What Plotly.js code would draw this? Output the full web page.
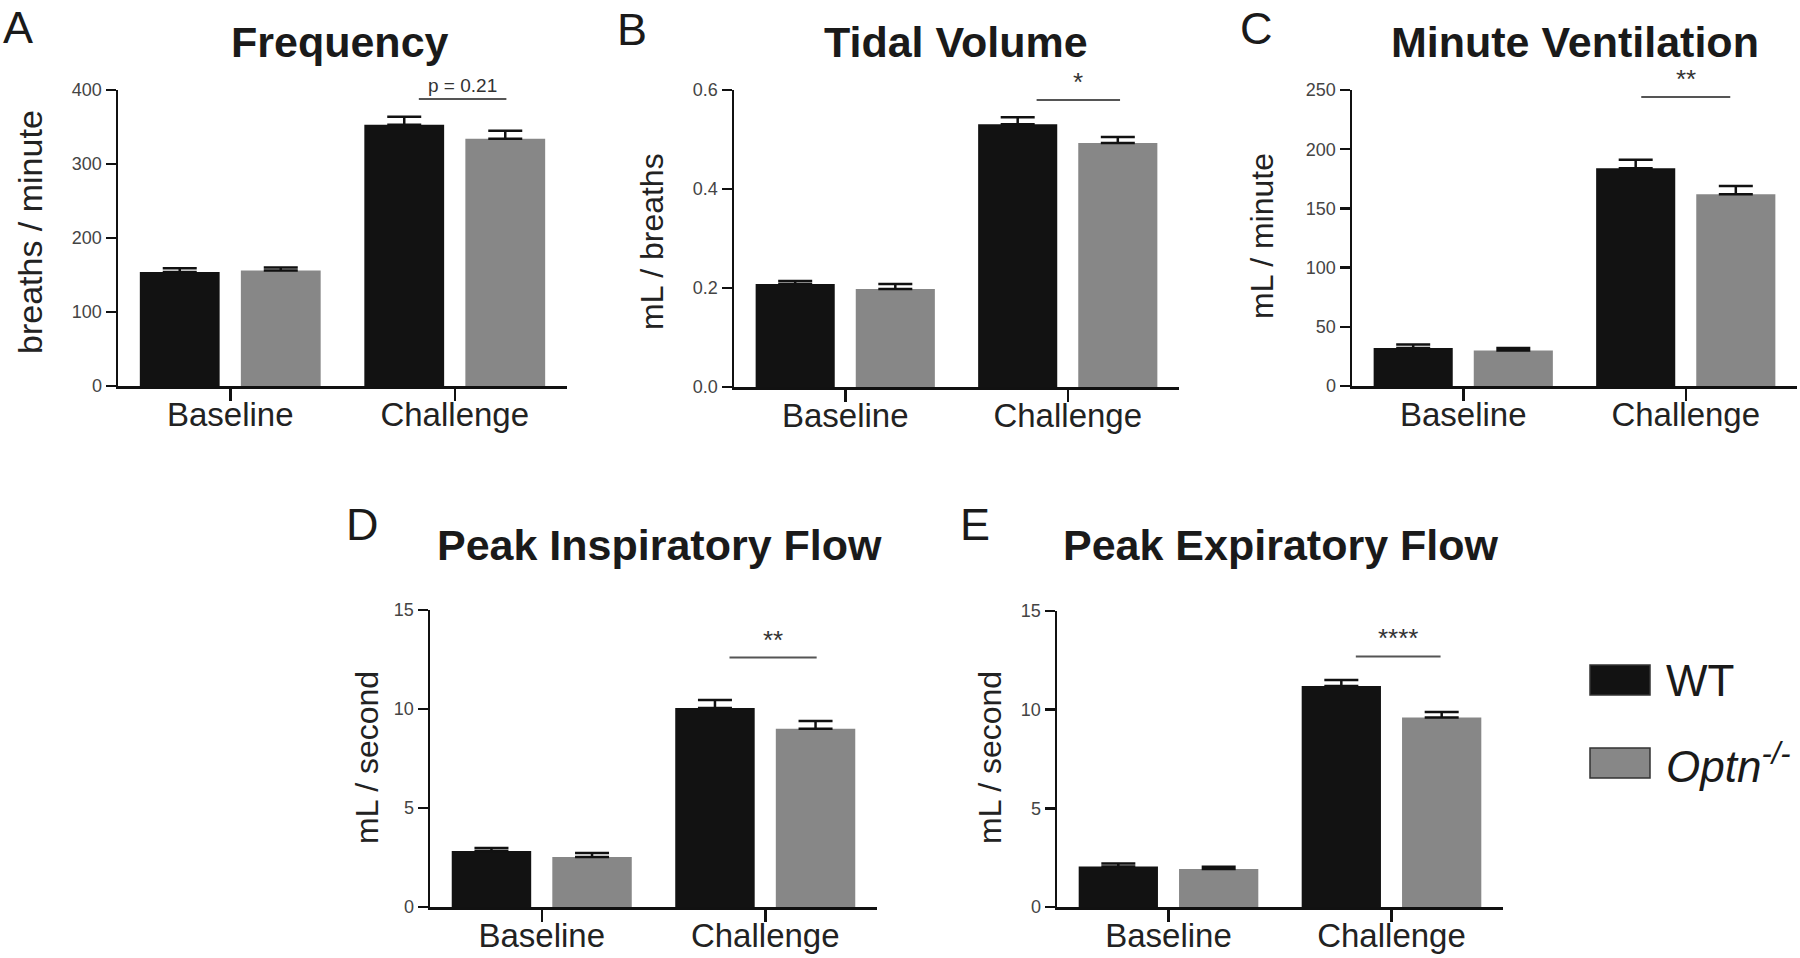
<!DOCTYPE html>
<html>
<head>
<meta charset="utf-8">
<script src="https://cdn.plot.ly/plotly-3.0.1.min.js"></script>
<style>html,body{margin:0;padding:0;background:#fff;}#chart{width:1800px;height:958px;}</style>
</head>
<body>
<div id="chart"></div>
<script>
// ---- data ----
const categories = ['Baseline', 'Challenge'];
const seriesNames = ['WT', 'Optn-/-'];

const freqWT = [154, 353];
const freqWTErr = [5, 11];
const freqKO = [156, 334];
const freqKOErr = [4, 11];

const tidalWT = [0.208, 0.531];
const tidalWTErr = [0.006, 0.014];
const tidalKO = [0.198, 0.493];
const tidalKOErr = [0.010, 0.012];

const minVentWT = [32, 184];
const minVentWTErr = [3, 7];
const minVentKO = [30, 162];
const minVentKOErr = [2, 7];

const pifWT = [2.83, 10.05];
const pifWTErr = [0.15, 0.4];
const pifKO = [2.53, 9.0];
const pifKOErr = [0.2, 0.4];

const pefWT = [2.05, 11.2];
const pefWTErr = [0.15, 0.3];
const pefKO = [1.92, 9.6];
const pefKOErr = [0.12, 0.28];

const panelTitles = ['Frequency', 'Tidal Volume', 'Minute Ventilation', 'Peak Inspiratory Flow', 'Peak Expiratory Flow'];
const panelLetters = ['A', 'B', 'C', 'D', 'E'];
const yTitles = ['breaths / minute', 'mL / breaths', 'mL / minute', 'mL / second', 'mL / second'];
const yMax = [400, 0.6, 250, 15, 15];
const yStep = [100, 0.2, 50, 5, 5];
const sigLabels = ['p = 0.21', '*', '**', '**', '****'];
const sigLevel = [388, 0.58, 244, 12.6, 12.7];

const wtSeries = [freqWT, tidalWT, minVentWT, pifWT, pefWT];
const wtErrs = [freqWTErr, tidalWTErr, minVentWTErr, pifWTErr, pefWTErr];
const koSeries = [freqKO, tidalKO, minVentKO, pifKO, pefKO];
const koErrs = [freqKOErr, tidalKOErr, minVentKOErr, pifKOErr, pefKOErr];

// ---- layout geometry (pixels) ----
const W = 1800, H = 958;
const boxes = [
  {x0: 118, x1: 567, y0: 90, y1: 386},
  {x0: 734, x1: 1179, y0: 90, y1: 387},
  {x0: 1352, x1: 1797, y0: 90, y1: 386},
  {x0: 430, x1: 877, y0: 610, y1: 907},
  {x0: 1057, x1: 1503, y0: 611, y1: 907}
];
const titlePos = [[340, 42], [956, 42], [1575, 42], [659, 545], [1280, 545]];
const letterPos = [[18, 0], [632, 2], [1256, 1], [362, 497], [975, 497]];
const yTitlePos = [[30, 232], [652, 242], [1262, 236], [367, 758], [990, 758]];
const sigSpan = [[0.84, 1.23], [0.86, 1.235], [0.80, 1.20], [0.84, 1.23], [0.84, 1.22]];
const sigFont = [19, 26, 26, 26, 26];

const px = x => x / W;
const py = y => 1 - y / H;
const FONT = 'Liberation Sans, Arial, Helvetica, sans-serif';
const WT_COLOR = '#121212';
const KO_COLOR = '#878787';

const traces = [];
const layout = {
  width: W, height: H,
  margin: {l: 0, r: 0, t: 0, b: 0},
  paper_bgcolor: '#ffffff', plot_bgcolor: '#ffffff',
  showlegend: false,
  barmode: 'group', bargap: 0.1, bargroupgap: 0.21,
  font: {family: FONT, color: '#222'},
  annotations: [], shapes: []
};

for (let i = 0; i < 5; i++) {
  const n = i === 0 ? '' : String(i + 1);
  const xa = 'x' + n, ya = 'y' + n;
  const b = boxes[i];
  const errStyle = {type: 'data', symmetric: false, color: '#111', thickness: 2.5, width: 17};
  traces.push({
    type: 'bar', name: seriesNames[0], x: categories, y: wtSeries[i], xaxis: xa, yaxis: ya,
    marker: {color: WT_COLOR, line: {width: 0}},
    error_y: Object.assign({array: wtErrs[i], arrayminus: [0, 0]}, errStyle)
  });
  traces.push({
    type: 'bar', name: seriesNames[1], x: categories, y: koSeries[i], xaxis: xa, yaxis: ya,
    marker: {color: KO_COLOR, line: {width: 0}},
    error_y: Object.assign({array: koErrs[i], arrayminus: [0, 0]}, errStyle)
  });
  layout['xaxis' + n] = {
    domain: [px(b.x0), px(b.x1)], anchor: ya, type: 'category', range: [-0.5, 1.5],
    showline: true, linecolor: '#111', linewidth: 2.5, ticks: 'outside', ticklen: 12, tickwidth: 2.5,
    ticklabelstandoff: -14,
    tickcolor: '#111', tickfont: {size: 33, color: '#222', family: FONT}, showgrid: false, zeroline: false,
    fixedrange: true
  };
  layout['yaxis' + n] = {
    domain: [py(b.y1), py(b.y0)], anchor: xa, range: [0, yMax[i]], dtick: yStep[i], tick0: 0,
    tickformat: i === 1 ? '.1f' : 'd',
    showline: true, linecolor: '#111', linewidth: 2.5, ticks: 'outside', ticklen: 10, tickwidth: 2.5,
    tickcolor: '#111', tickfont: {size: 18, color: '#444', family: FONT}, showgrid: false, zeroline: false,
    fixedrange: true
  };
  // panel title
  layout.annotations.push({
    xref: 'paper', yref: 'paper', x: px(titlePos[i][0]), y: py(titlePos[i][1]), xanchor: 'center', yanchor: 'middle',
    text: '<b>' + panelTitles[i] + '</b>', showarrow: false, font: {size: 43, color: '#1a1a1a', family: FONT}
  });
  // panel letter
  layout.annotations.push({
    xref: 'paper', yref: 'paper', x: px(letterPos[i][0]), y: py(letterPos[i][1]), xanchor: 'center', yanchor: 'top',
    text: panelLetters[i], showarrow: false, font: {size: 45, color: '#1a1a1a', family: FONT}
  });
  // y-axis title
  layout.annotations.push({
    xref: 'paper', yref: 'paper', x: px(yTitlePos[i][0]), y: py(yTitlePos[i][1]), xanchor: 'center', yanchor: 'middle',
    text: yTitles[i], textangle: -90, showarrow: false, font: {size: i === 0 ? 34 : 32, color: '#222', family: FONT}
  });
  // significance line + label
  layout.shapes.push({
    type: 'line', xref: xa, yref: ya, x0: sigSpan[i][0], x1: sigSpan[i][1], y0: sigLevel[i], y1: sigLevel[i],
    line: {color: '#555', width: 2}
  });
  layout.annotations.push({
    xref: xa, yref: ya, x: (sigSpan[i][0] + sigSpan[i][1]) / 2, y: sigLevel[i], xanchor: 'center', yanchor: 'bottom',
    yshift: 1, text: sigLabels[i], showarrow: false, font: {size: sigFont[i], color: '#333', family: FONT}
  });
}

// legend (manual, large swatches)
const legendItems = [
  {label: 'WT', color: WT_COLOR, yc: 680},
  {label: '<i>Optn</i><sup><i>-/-</i></sup>', color: KO_COLOR, yc: 763}
];
legendItems.forEach(it => {
  layout.shapes.push({
    type: 'rect', xref: 'paper', yref: 'paper', x0: px(1590), x1: px(1650), y0: py(it.yc + 15), y1: py(it.yc - 15),
    fillcolor: it.color, line: {color: '#333', width: 1.5}
  });
  layout.annotations.push({
    xref: 'paper', yref: 'paper', x: px(1664), y: py(it.yc), xanchor: 'left', yanchor: 'middle',
    text: it.label, showarrow: false, font: {size: 44, color: '#1a1a1a', family: FONT}
  });
});

Plotly.newPlot('chart', traces, layout, {displayModeBar: false, staticPlot: true});
</script>
</body>
</html>
